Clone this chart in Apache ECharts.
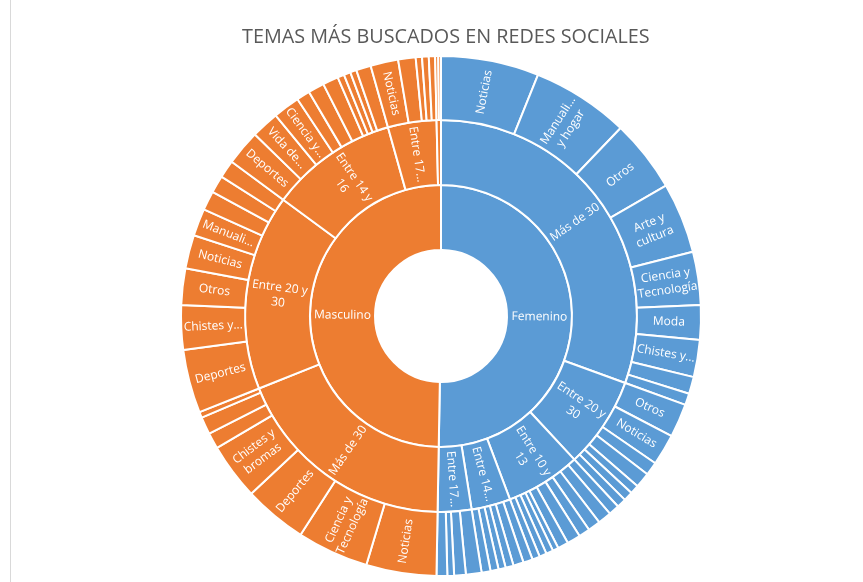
<!DOCTYPE html>
<html>
<head>
<meta charset="utf-8">
<script src="https://cdn.jsdelivr.net/npm/echarts@6/dist/echarts.min.js"></script>
<style>
html,body{margin:0;padding:0;background:#fff;}
#wrap{position:absolute;left:0;top:0;width:863px;height:582px;}
#line{position:absolute;left:10px;top:0;width:1px;height:582px;background:#d9d9d9;}
#chart{position:absolute;left:0;top:0;width:863px;height:582px;}
</style>
</head>
<body>
<div id="wrap"><div id="line"></div><div id="chart"></div></div>
<script>
// Genders (ring 1)
const genders = ['Femenino', 'Masculino'];
const genderColors = ['#5B9BD5', '#ED7D31'];
// Age groups (ring 2)
const femAges = ['Más de 30', 'Entre 20 y 30', 'Entre 10 y 13', 'Entre 14 y 16', 'Entre 17 y 19'];
const femAgeLabels = ['Más de 30', 'Entre 20 y\n30', 'Entre 10 y\n13', 'Entre 14...', 'Entre 17...'];
const masAges = ['Más de 30', 'Entre 20 y 30', 'Entre 14 y 16', 'Entre 17 y 19', 'Entre 10 y 13'];
const masAgeLabels = ['Más de 30', 'Entre 20 y\n30', 'Entre 14 y\n16', 'Entre 17...', ''];

// Topics (ring 3) per gender / age group
const femMas30Topics = ['Noticias', 'Manualidades y hogar', 'Otros', 'Arte y cultura', 'Ciencia y Tecnología', 'Moda', 'Chistes y bromas', 'Deportes', 'Vida de famosos'];
const femMas30Labels = ['Noticias', 'Manuali...\ny hogar', 'Otros', 'Arte y\ncultura', 'Ciencia y\nTecnología', 'Moda', 'Chistes y...', '', ''];
const femMas30Values = [21.9, 21.8, 16.2, 15.8, 11.9, 7.7, 8.3, 3.8, 2.6];

const femE2030Topics = ['Otros', 'Noticias', 'Arte y cultura', 'Ciencia y Tecnología', 'Moda', 'Chistes y bromas', 'Deportes'];
const femE2030Labels = ['Otros', 'Noticias', '', '', '', '', ''];
const femE2030Values = [7.5, 7.0, 3.0, 3.4, 2.0, 2.1, 2.1];

const femE1013Topics = ['Noticias', 'Otros', 'Moda', 'Arte y cultura', 'Chistes y bromas', 'Manualidades y hogar', 'Ciencia y Tecnología', 'Deportes', 'Vida de famosos', 'Videojuegos'];
const femE1013Values = [2.4, 3.0, 2.8, 2.5, 3.0, 2.4, 1.3, 1.6, 1.6, 1.7];

const femE1416Topics = ['Moda', 'Otros', 'Noticias', 'Arte y cultura', 'Chistes y bromas', 'Deportes'];
const femE1416Values = [2.1, 2.3, 1.8, 1.6, 1.8, 2.0];

const femE1719Topics = ['Moda', 'Noticias', 'Otros', 'Chistes y bromas'];
const femE1719Values = [3.5, 2.6, 1.5, 2.4];

const masMas30Topics = ['Noticias', 'Ciencia y Tecnología', 'Deportes', 'Chistes y bromas', 'Otros', 'Manualidades y hogar', 'Vida de famosos'];
const masMas30Labels = ['Noticias', 'Ciencia y\nTecnología', 'Deportes', 'Chistes y\nbromas', '', '', ''];
const masMas30Values = [15.7, 16.0, 14.2, 12.6, 3.6, 3.9, 1.3];

const masE2030Topics = ['Deportes', 'Chistes y bromas', 'Otros', 'Noticias', 'Manualidades y hogar', 'Ciencia y Tecnología', 'Vida de famosos', 'Arte y cultura'];
const masE2030Labels = ['Deportes', 'Chistes y...', 'Otros', 'Noticias', 'Manuali...', '', '', ''];
const masE2030Values = [14.2, 9.9, 8.2, 7.5, 6.1, 4.3, 3.9, 4.0];

const masE1416Topics = ['Deportes', 'Vida de famosos', 'Ciencia y Tecnología', 'Chistes y bromas', 'Otros', 'Noticias', 'Manualidades y hogar', 'Arte y cultura', 'Moda', 'Videojuegos'];
const masE1416Labels = ['Deportes', 'Vida de...', 'Ciencia y...', '', '', '', '', '', '', ''];
const masE1416Values = [7.9, 6.2, 6.0, 3.0, 3.6, 3.5, 1.5, 1.5, 1.4, 3.3];

const masE1719Topics = ['Noticias', 'Deportes', 'Otros', 'Chistes y bromas', 'Ciencia y Tecnología'];
const masE1719Labels = ['Noticias', '', '', '', ''];
const masE1719Values = [6.2, 3.9, 1.4, 1.5, 1.4];

const masE1013Topics = ['Deportes', 'Videojuegos'];
const masE1013Values = [0.7, 0.6];

const titleText = 'TEMAS MÁS BUSCADOS EN REDES SOCIALES';

function leaves(names, values, labels, color) {
  return names.map((n, i) => {
    const lab = labels ? labels[i] : '';
    return {
      name: n,
      value: values[i],
      itemStyle: { color: color },
      label: lab ? { show: true, formatter: lab } : { show: false }
    };
  });
}
function group(name, lab, children, color) {
  return {
    name: name,
    itemStyle: { color: color },
    label: lab ? { show: true, formatter: lab } : { show: false },
    children: children
  };
}

const fc = genderColors[0], mc = genderColors[1];
const femChildren = [
  group(femAges[0], femAgeLabels[0], leaves(femMas30Topics, femMas30Values, femMas30Labels, fc), fc),
  group(femAges[1], femAgeLabels[1], leaves(femE2030Topics, femE2030Values, femE2030Labels, fc), fc),
  group(femAges[2], femAgeLabels[2], leaves(femE1013Topics, femE1013Values, null, fc), fc),
  group(femAges[3], femAgeLabels[3], leaves(femE1416Topics, femE1416Values, null, fc), fc),
  group(femAges[4], femAgeLabels[4], leaves(femE1719Topics, femE1719Values, null, fc), fc)
];
const masChildren = [
  group(masAges[0], masAgeLabels[0], leaves(masMas30Topics, masMas30Values, masMas30Labels, mc), mc),
  group(masAges[1], masAgeLabels[1], leaves(masE2030Topics, masE2030Values, masE2030Labels, mc), mc),
  group(masAges[2], masAgeLabels[2], leaves(masE1416Topics, masE1416Values, masE1416Labels, mc), mc),
  group(masAges[3], masAgeLabels[3], leaves(masE1719Topics, masE1719Values, masE1719Labels, mc), mc),
  group(masAges[4], masAgeLabels[4], leaves(masE1013Topics, masE1013Values, null, mc), mc)
];

const data = [
  group(genders[0], genders[0], femChildren, fc),
  group(genders[1], genders[1], masChildren, mc)
];

const chart = echarts.init(document.getElementById('chart'), null, { renderer: 'canvas' });
chart.setOption({
  animation: false,
  title: {
    text: titleText,
    left: 237,
    top: 22,
    textStyle: { fontFamily: 'Open Sans', fontSize: 19.8, fontWeight: 'normal', color: '#595959' }
  },
  series: [{
    type: 'sunburst',
    center: [441, 316],
    radius: [66, 260],
    sort: null,
    startAngle: 90,
    clockwise: true,
    nodeClick: false,
    emphasis: { disabled: true },
    data: data,
    itemStyle: { borderColor: '#ffffff', borderWidth: 2 },
    label: {
      rotate: 'radial',
      color: '#ffffff',
      fontFamily: 'Open Sans',
      fontSize: 12,
      lineHeight: 15,
      align: 'center'
    },
    levels: [
      {},
      { r0: 66, r: 131 },
      { r0: 131, r: 196 },
      { r0: 196, r: 260 }
    ]
  }]
});
</script>
</body>
</html>
